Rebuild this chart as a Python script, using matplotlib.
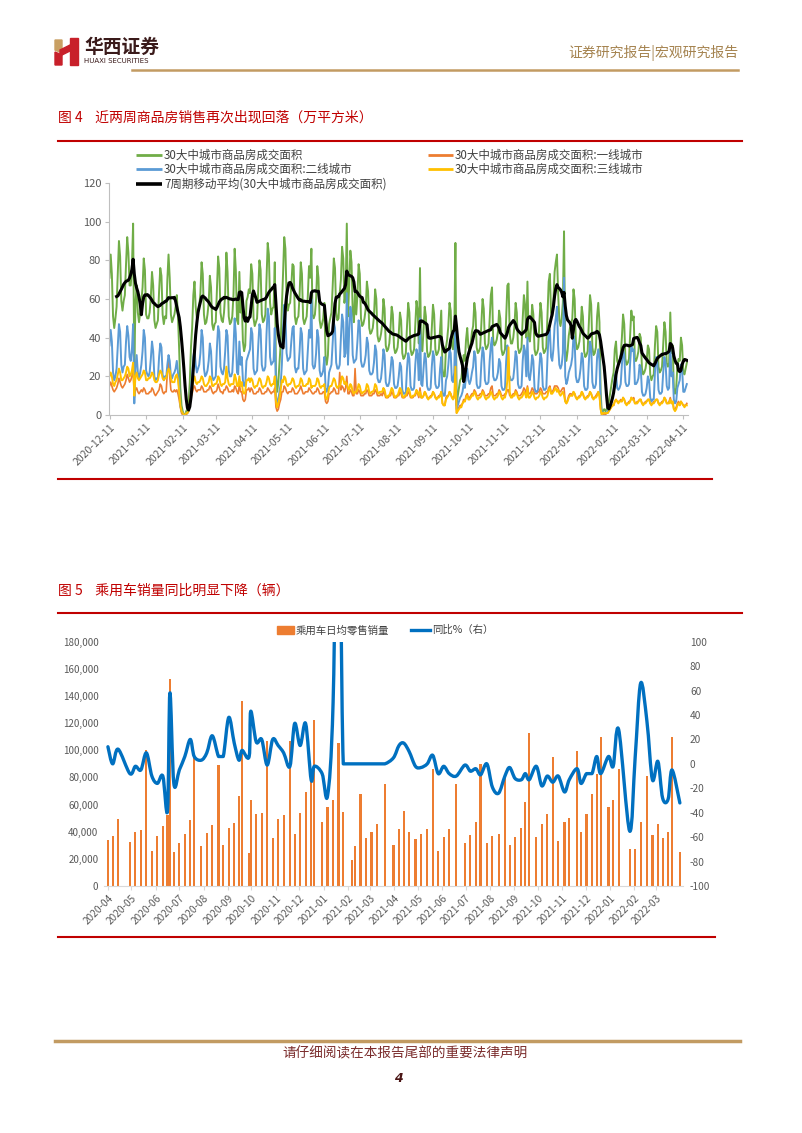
import matplotlib
matplotlib.use("Agg")
import matplotlib.pyplot as plt
import matplotlib.dates as mdates
import pandas as pd
from matplotlib.lines import Line2D
from matplotlib.patches import Rectangle, Polygon, PathPatch
from matplotlib.path import Path

plt.rcParams['font.family'] = ['Noto Sans CJK SC', 'DejaVu Sans']
plt.rcParams['axes.unicode_minus'] = False

# ---------------- chart 1 data: daily, from 2020-12-11 (one row = one week) ----------------
house_start = "2020-12-11"

tier1 = [
    15, 17, 15, 13, 12, 13, 14,
    16, 19, 17, 15, 14, 15, 16,
    18, 21, 19, 17, 18, 20, 25,
    9, 13, 14, 12, 11, 12, 13,
    12, 14, 13, 11, 11, 11, 12,
    12, 14, 13, 11, 10, 11, 12,
    13, 16, 15, 12, 11, 12, 12,
    22, 28, 20, 13, 12, 12, 13,
    12, 13, 11, 8, 4, 1, 0,
    0, 0, 0, 1, 2, 5, 9,
    11, 14, 15, 13, 12, 13, 13,
    13, 15, 14, 12, 12, 12, 13,
    13, 15, 14, 12, 11, 12, 12,
    13, 16, 14, 12, 12, 11, 13,
    13, 15, 14, 12, 12, 12, 13,
    12, 15, 14, 12, 11, 16, 12,
    12, 8, 7, 8, 13, 13, 14,
    12, 14, 13, 11, 11, 11, 12,
    12, 14, 13, 11, 11, 11, 12,
    12, 14, 13, 12, 11, 12, 12,
    14, 4, 2, 3, 6, 8, 12,
    12, 15, 14, 12, 11, 12, 12,
    12, 14, 13, 11, 11, 11, 12,
    13, 15, 13, 11, 11, 12, 12,
    12, 14, 13, 12, 11, 11, 12,
    12, 14, 13, 11, 11, 11, 12,
    12, 7, 6, 7, 11, 11, 12,
    12, 14, 13, 11, 11, 11, 22,
    13, 15, 14, 12, 14, 20, 11,
    11, 13, 12, 10, 10, 24, 11,
    11, 13, 12, 10, 10, 10, 11,
    11, 13, 12, 10, 10, 10, 11,
    11, 13, 12, 10, 10, 10, 11,
    10, 12, 11, 9, 9, 9, 10,
    10, 12, 11, 9, 9, 9, 10,
    10, 12, 11, 9, 9, 9, 10,
    10, 12, 11, 9, 9, 9, 10,
    10, 12, 11, 9, 14, 9, 9,
    10, 12, 11, 9, 9, 9, 10,
    10, 12, 11, 9, 9, 9, 10,
    10, 12, 6, 5, 5, 9, 10,
    10, 12, 11, 9, 9, 10, 14,
    1, 3, 4, 5, 5, 6, 8,
    7, 10, 11, 9, 9, 10, 11,
    11, 13, 12, 10, 10, 10, 11,
    11, 13, 12, 10, 10, 10, 11,
    11, 14, 15, 10, 10, 10, 11,
    11, 13, 12, 10, 10, 10, 11,
    11, 13, 13, 10, 10, 10, 11,
    11, 13, 12, 10, 10, 10, 11,
    12, 14, 13, 11, 15, 11, 11,
    12, 14, 13, 11, 11, 11, 12,
    12, 14, 13, 11, 11, 11, 12,
    12, 14, 15, 12, 12, 13, 15,
    15, 15, 14, 12, 12, 13, 14,
    14, 7, 6, 8, 10, 11, 11,
    10, 12, 11, 9, 9, 9, 10,
    10, 12, 11, 9, 9, 9, 10,
    10, 12, 11, 9, 9, 9, 10,
    11, 12, 10, 3, 0, 0, 1,
    0, 1, 1, 2, 3, 4, 5,
    5, 7, 8, 7, 7, 7, 8,
    7, 9, 8, 6, 6, 6, 7,
    7, 9, 8, 9, 6, 6, 7,
    7, 8, 8, 6, 6, 6, 7,
    7, 8, 8, 6, 6, 6, 7,
    7, 8, 8, 6, 6, 6, 7,
    7, 9, 8, 6, 6, 7, 9,
    6, 7, 3, 3, 4, 6, 7,
    5, 7, 6, 5, 5, 5, 6,
]

tier2 = [
    36, 44, 38, 22, 18, 20, 24,
    36, 47, 43, 26, 22, 25, 26,
    38, 46, 41, 30, 28, 34, 47,
    6, 25, 31, 22, 19, 22, 26,
    33, 44, 40, 23, 21, 20, 22,
    29, 38, 33, 20, 18, 19, 19,
    30, 37, 35, 21, 18, 20, 19,
    26, 31, 28, 20, 19, 21, 22,
    24, 28, 22, 14, 5, 2, 1,
    0, 0, 1, 1, 2, 6, 14,
    20, 30, 34, 26, 22, 24, 26,
    32, 44, 40, 24, 20, 21, 23,
    28, 37, 33, 20, 18, 19, 20,
    35, 46, 43, 25, 22, 21, 24,
    33, 44, 41, 23, 20, 20, 22,
    34, 50, 42, 22, 21, 38, 26,
    30, 18, 15, 16, 28, 30, 32,
    34, 45, 42, 24, 21, 22, 23,
    36, 47, 44, 26, 23, 23, 25,
    42, 55, 51, 30, 26, 27, 28,
    45, 10, 6, 8, 12, 16, 26,
    44, 57, 53, 32, 28, 29, 30,
    38, 45, 46, 25, 22, 24, 24,
    33, 45, 42, 24, 21, 22, 23,
    34, 44, 40, 60, 26, 24, 25,
    32, 44, 40, 23, 20, 21, 23,
    30, 14, 12, 14, 22, 24, 26,
    37, 48, 45, 27, 24, 24, 26,
    40, 52, 48, 30, 32, 63, 26,
    43, 56, 52, 31, 27, 28, 29,
    38, 49, 46, 28, 25, 25, 27,
    31, 40, 37, 23, 21, 21, 22,
    27, 36, 33, 19, 17, 17, 19,
    25, 34, 31, 17, 15, 15, 17,
    23, 30, 28, 16, 14, 14, 15,
    20, 27, 25, 13, 11, 11, 12,
    24, 32, 29, 15, 13, 13, 14,
    26, 34, 31, 18, 50, 16, 15,
    24, 32, 29, 15, 13, 13, 14,
    25, 33, 30, 16, 14, 14, 15,
    24, 30, 12, 10, 10, 18, 20,
    26, 34, 32, 18, 17, 22, 50,
    3, 5, 7, 9, 10, 12, 16,
    14, 20, 24, 18, 16, 18, 22,
    25, 33, 30, 16, 14, 14, 15,
    27, 35, 32, 18, 16, 16, 17,
    28, 36, 40, 20, 18, 18, 19,
    22, 29, 27, 15, 13, 13, 14,
    28, 36, 20, 20, 18, 18, 19,
    25, 33, 30, 16, 14, 14, 15,
    28, 36, 33, 20, 40, 20, 18,
    23, 31, 28, 14, 12, 12, 13,
    24, 32, 29, 15, 13, 13, 14,
    30, 42, 44, 30, 28, 34, 46,
    50, 56, 36, 26, 24, 26, 32,
    71, 20, 16, 18, 22, 24, 26,
    30, 41, 38, 20, 17, 17, 19,
    24, 32, 29, 15, 13, 13, 14,
    27, 38, 35, 17, 14, 14, 16,
    30, 34, 28, 6, 1, 1, 1,
    1, 1, 2, 3, 5, 7, 9,
    12, 20, 22, 14, 13, 14, 16,
    26, 34, 31, 17, 15, 15, 16,
    27, 36, 33, 34, 16, 16, 17,
    19, 26, 24, 12, 10, 10, 11,
    14, 20, 18, 9, 7, 8, 8,
    22, 30, 27, 13, 11, 11, 12,
    22, 30, 27, 15, 13, 14, 36,
    20, 22, 8, 6, 7, 14, 16,
    18, 26, 24, 12, 12, 14, 16,
]

tier3 = [
    20, 22, 20, 16, 15, 17, 18,
    21, 24, 22, 18, 18, 19, 20,
    22, 25, 24, 20, 21, 23, 27,
    10, 20, 22, 19, 18, 19, 20,
    21, 23, 22, 18, 18, 19, 19,
    20, 22, 21, 18, 17, 17, 18,
    21, 23, 22, 19, 18, 19, 19,
    22, 24, 23, 19, 17, 17, 17,
    20, 21, 18, 12, 5, 2, 1,
    0, 0, 1, 1, 2, 6, 12,
    14, 18, 20, 17, 16, 17, 17,
    18, 20, 19, 16, 15, 15, 16,
    17, 20, 19, 15, 15, 16, 16,
    17, 20, 19, 16, 15, 16, 16,
    17, 25, 19, 16, 15, 16, 16,
    16, 21, 19, 15, 15, 20, 15,
    17, 12, 11, 12, 18, 18, 19,
    17, 19, 18, 15, 14, 15, 15,
    17, 19, 18, 15, 14, 15, 15,
    17, 20, 19, 16, 15, 16, 16,
    20, 7, 4, 6, 9, 13, 18,
    17, 20, 19, 16, 15, 16, 16,
    17, 19, 18, 15, 14, 15, 15,
    16, 19, 18, 15, 15, 15, 16,
    16, 19, 18, 14, 15, 15, 15,
    16, 19, 18, 15, 14, 15, 15,
    16, 9, 8, 10, 14, 15, 15,
    17, 19, 18, 15, 14, 15, 15,
    17, 20, 19, 16, 17, 16, 14,
    13, 16, 15, 12, 11, 12, 12,
    13, 16, 15, 12, 11, 12, 12,
    13, 16, 15, 12, 11, 12, 12,
    13, 16, 15, 12, 11, 12, 12,
    12, 14, 13, 10, 9, 10, 10,
    12, 14, 13, 10, 9, 10, 10,
    12, 14, 13, 10, 9, 10, 10,
    12, 14, 13, 10, 9, 10, 10,
    11, 13, 12, 10, 12, 9, 9,
    10, 12, 11, 9, 8, 9, 9,
    10, 12, 11, 9, 8, 9, 9,
    10, 12, 6, 5, 5, 8, 9,
    10, 12, 11, 9, 8, 9, 25,
    1, 2, 3, 4, 4, 6, 7,
    7, 9, 10, 8, 8, 9, 10,
    10, 12, 11, 9, 8, 9, 9,
    10, 12, 11, 9, 8, 9, 9,
    10, 12, 11, 9, 8, 9, 9,
    10, 12, 11, 9, 8, 9, 9,
    12, 18, 35, 12, 9, 9, 10,
    10, 12, 11, 9, 8, 9, 9,
    10, 12, 11, 9, 14, 9, 9,
    10, 12, 11, 9, 8, 9, 9,
    10, 12, 11, 9, 8, 9, 9,
    10, 13, 14, 11, 11, 12, 13,
    14, 12, 13, 11, 10, 11, 12,
    10, 7, 6, 7, 9, 10, 10,
    10, 12, 11, 9, 8, 9, 9,
    10, 12, 11, 9, 8, 9, 9,
    10, 12, 11, 9, 8, 9, 9,
    10, 12, 10, 3, 0, 1, 1,
    1, 1, 1, 2, 3, 4, 5,
    5, 7, 8, 7, 6, 7, 7,
    7, 9, 8, 6, 5, 6, 6,
    7, 9, 8, 8, 6, 6, 6,
    7, 8, 8, 6, 5, 6, 6,
    7, 8, 8, 6, 5, 6, 6,
    7, 8, 8, 6, 5, 6, 6,
    7, 9, 8, 6, 6, 6, 8,
    6, 7, 3, 2, 3, 5, 6,
    5, 7, 6, 5, 4, 5, 5,
]

house_labels = ["30大中城市商品房成交面积", "30大中城市商品房成交面积:一线城市",
                "30大中城市商品房成交面积:二线城市", "30大中城市商品房成交面积:三线城市",
                "7周期移动平均(30大中城市商品房成交面积)"]

# ---------------- chart 2 data: weekly car retail ----------------
car_dates = [
    "2020-04-01", "2020-04-07", "2020-04-14", "2020-04-29", "2020-05-06", "2020-05-13", "2020-05-20",
    "2020-05-27", "2020-06-03", "2020-06-10", "2020-06-16", "2020-06-19", "2020-06-24", "2020-07-01",
    "2020-07-08", "2020-07-15", "2020-07-20", "2020-07-29", "2020-08-05", "2020-08-12", "2020-08-20",
    "2020-08-26", "2020-09-02", "2020-09-09", "2020-09-15", "2020-09-19", "2020-09-28", "2020-09-30",
    "2020-10-07", "2020-10-14", "2020-10-21", "2020-10-28", "2020-11-04", "2020-11-11", "2020-11-19",
    "2020-11-25", "2020-12-02", "2020-12-09", "2020-12-16", "2020-12-20", "2020-12-30", "2021-01-06",
    "2021-01-13", "2021-01-20", "2021-01-26", "2021-02-06", "2021-02-10", "2021-02-17", "2021-02-24",
    "2021-03-03", "2021-03-10", "2021-03-20", "2021-03-31", "2021-04-07", "2021-04-13", "2021-04-20",
    "2021-04-28", "2021-05-05", "2021-05-13", "2021-05-20", "2021-05-27", "2021-06-03", "2021-06-10",
    "2021-06-19", "2021-06-30", "2021-07-07", "2021-07-14", "2021-07-20", "2021-07-28", "2021-08-04",
    "2021-08-12", "2021-08-20", "2021-08-26", "2021-09-02", "2021-09-10", "2021-09-15", "2021-09-20",
    "2021-09-29", "2021-10-06", "2021-10-13", "2021-10-20", "2021-10-27", "2021-11-04", "2021-11-10",
    "2021-11-20", "2021-11-25", "2021-12-02", "2021-12-09", "2021-12-15", "2021-12-20", "2021-12-30",
    "2022-01-05", "2022-01-12", "2022-01-26", "2022-02-02", "2022-02-09", "2022-02-17", "2022-02-24",
    "2022-03-03", "2022-03-09", "2022-03-16", "2022-03-21", "2022-03-31",
]

car_sales = [
    34000, 37000, 49000, 32500, 39500, 41500, 100500,
    26000, 37000, 44000, 52000, 152500, 25000, 31500,
    38500, 48500, 95000, 29500, 39000, 45000, 89000,
    30000, 42500, 46500, 66500, 136500, 24000, 63500,
    53000, 53500, 107000, 35000, 49500, 52000, 107000,
    38000, 54000, 69000, 78000, 122000, 47000, 58000,
    63000, 105500, 54500, 19500, 29500, 67500, 35000,
    39500, 45500, 75500, 30500, 42000, 55500, 40000,
    34600, 38500, 42000, 86000, 26000, 36000, 42000,
    75000, 31400, 37800, 47000, 90000, 31400, 37000,
    38300, 80500, 30000, 36300, 43000, 61600, 113000,
    35800, 45700, 53000, 94800, 33000, 47000, 50000,
    99500, 40000, 52800, 67800, 82500, 109500, 58500,
    63000, 86000, 27000, 27000, 47400, 81300, 37800,
    46000, 35600, 40000, 109500, 25300,
]

car_yoy = [
    14, 0, 12, -8, -2, -5, 9,
    -10, -16, -10, -38, 58, -16, -5,
    6, 20, 6, 3, 9, 23, 6,
    6, 38, 17, 3, 11, 6, 43,
    18, 20, -1, 20, 15, 9, -2,
    33, 15, 33, -13, -2, -8, -26,
    50, 280, 0, 0, 0, 0, 0,
    0, 0, 0, 5, 15, 17, 10,
    -2, -3, 0, 7, -8, -2, -8,
    -10, -1, -6, -4, -9, 0, -19,
    -24, -10, -3, -12, -13, -8, -13,
    -2, -18, -10, -15, -10, -23, -13,
    -4, -16, -8, -8, 6, -8, 6,
    -2, 28, -55, 5, 66, 35, -13,
    2, -28, -29, -5, -32,
]

car_labels = ["乘用车日均零售销量", "同比%（右）"]

# ---------------- page layout helpers (pixel coordinates, origin top-left) ----------------
W, H = 802, 1133
fig = plt.figure(figsize=(W / 100, H / 100), dpi=100)


def fx(px):
    return px / W


def fy(py):
    return 1 - py / H


def rect(l, t, r, b):
    return [fx(l), fy(b), (r - l) / W, (b - t) / H]


def hline(x0, x1, y, color, lw):
    fig.add_artist(Line2D([fx(x0), fx(x1)], [fy(y), fy(y)], color=color, lw=lw,
                          transform=fig.transFigure))


def legend_line(x0, x1, y, color, lw, label):
    fig.add_artist(Line2D([fx(x0), fx(x1)], [fy(y), fy(y)], color=color, lw=lw,
                          solid_capstyle="butt", transform=fig.transFigure))
    fig.text(fx(x1 + 2), fy(y), label, fontsize=8.3, color="#404040", va="center", ha="left")


GOLD = "#C29B62"
RED = "#C00000"
GREY_TXT = "#595959"

# header: logo, name, report type
fig.add_artist(Polygon([(fx(55), fy(40)), (fx(62), fy(40)), (fx(62), fy(53)), (fx(55), fy(50))],
                       closed=True, color="#C9A063", transform=fig.transFigure))
fig.add_artist(Polygon([(fx(55), fy(52)), (fx(62), fy(55)), (fx(62), fy(65)), (fx(55), fy(65))],
                       closed=True, color="#C8202A", transform=fig.transFigure))
fig.add_artist(Polygon([(fx(60), fy(50)), (fx(72), fy(44)), (fx(72), fy(50)), (fx(60), fy(56))],
                       closed=True, color="#C8202A", transform=fig.transFigure))
fig.add_artist(Polygon([(fx(70), fy(38)), (fx(78), fy(38)), (fx(78), fy(65)), (fx(70), fy(65))],
                       closed=True, color="#C8202A", transform=fig.transFigure))
fig.text(fx(84), fy(47), "华西证券", fontsize=13.5, fontweight="bold", color="#3A1A1A", va="center")
fig.text(fx(84), fy(61), "HUAXI SECURITIES", fontsize=5, color="#3A1A1A", va="center",
         family=["DejaVu Sans"])
fig.text(fx(738), fy(53), "证券研究报告|宏观研究报告", fontsize=10, color="#A5834F",
         va="center", ha="right")
hline(132, 738, 70, GOLD, 1.8)

# figure titles and red rules
fig.text(fx(58), fy(118), "图 4    近两周商品房销售再次出现回落（万平方米）", fontsize=10,
         color=RED, va="center")
hline(58, 742, 141, RED, 1.5)
hline(58, 712, 479, RED, 1.5)
fig.text(fx(58), fy(591), "图 5    乘用车销量同比明显下降（辆）", fontsize=10, color=RED, va="center")
hline(58, 742, 613, RED, 1.5)
hline(58, 715, 937, RED, 1.5)

# footer
hline(55, 740, 1041, GOLD, 2.5)
fig.text(fx(405), fy(1053), "请仔细阅读在本报告尾部的重要法律声明", fontsize=9.8, color="#7B2C2C",
         ha="center", va="center")
fig.text(fx(398), fy(1079), "4", fontsize=9, fontweight="bold", style="italic", color="#4A1515",
         ha="center", va="center", family=["DejaVu Sans"])

# ---------------- chart 1 ----------------
days = pd.date_range(house_start, periods=len(tier2), freq="D")
total = pd.Series(tier1, index=days) + pd.Series(tier2, index=days) + pd.Series(tier3, index=days)
ma7 = total.rolling(7).mean()

ax1 = fig.add_axes(rect(109.5, 183, 688, 415))
ax1.plot(days, total, color="#70AD47", lw=1.4)
ax1.plot(days, tier1, color="#ED7D31", lw=1.2)
ax1.plot(days, tier2, color="#5B9BD5", lw=1.4)
ax1.plot(days, tier3, color="#FFC000", lw=1.4)
ax1.plot(days, ma7, color="black", lw=2.2)
ax1.set_xlim(pd.Timestamp("2020-12-11"), pd.Timestamp("2022-04-15"))
ax1.set_ylim(0, 120)
ax1.set_yticks(range(0, 121, 20))
ax1.set_xticks(pd.date_range("2020-12-11", "2022-04-11", freq=pd.DateOffset(months=1)))
ax1.xaxis.set_major_formatter(mdates.DateFormatter("%Y-%m-%d"))
for s in ("top", "right"):
    ax1.spines[s].set_visible(False)
for s in ("left", "bottom"):
    ax1.spines[s].set_color("#BFBFBF")
ax1.tick_params(axis="both", colors="#BFBFBF", labelcolor=GREY_TXT, length=3, width=0.8)
ax1.tick_params(axis="y", labelsize=8, pad=3)
ax1.tick_params(axis="x", labelsize=7.5, pad=2)
for lab in ax1.get_xticklabels():
    lab.set_rotation(45)
    lab.set_ha("right")
    lab.set_rotation_mode("anchor")

legend_line(136, 162, 155, "#70AD47", 2, house_labels[0])
legend_line(428, 453, 155, "#ED7D31", 2, house_labels[1])
legend_line(136, 162, 169, "#5B9BD5", 2, house_labels[2])
legend_line(428, 453, 169, "#FFC000", 2, house_labels[3])
legend_line(136, 162, 184, "black", 2.6, house_labels[4])

# ---------------- chart 2 ----------------
cd = pd.to_datetime(car_dates)
ax2 = fig.add_axes(rect(104, 641.7, 683, 886))
ax2.bar(cd, car_sales, width=2.8, color="#ED7D31", zorder=2)
ax2.set_xlim(pd.Timestamp("2020-03-27"), pd.Timestamp("2022-04-04"))
ax2.set_ylim(0, 180000)
ax2.set_yticks(range(0, 180001, 20000))
ax2.yaxis.set_major_formatter(matplotlib.ticker.FuncFormatter(lambda v, p: f"{int(v):,}"))
ax2.set_xticks(pd.date_range("2020-04-01", "2022-03-01", freq="MS"))
ax2.xaxis.set_major_formatter(mdates.DateFormatter("%Y-%m"))
for s in ("top", "right", "left"):
    ax2.spines[s].set_visible(False)
ax2.spines["bottom"].set_color("#D9D9D9")
ax2.tick_params(axis="y", length=0, labelsize=7, labelcolor=GREY_TXT, pad=4)
ax2.tick_params(axis="x", length=3, color="#D9D9D9", labelsize=7.3, labelcolor=GREY_TXT, pad=2)
for lab in ax2.get_xticklabels():
    lab.set_rotation(45)
    lab.set_ha("right")
    lab.set_rotation_mode("anchor")

ax2r = ax2.twinx()
ax2r.set_ylim(-100, 100)
ax2r.set_yticks(range(-100, 101, 20))
for s in ax2r.spines.values():
    s.set_visible(False)
ax2r.tick_params(axis="y", length=0, labelsize=7.3, labelcolor=GREY_TXT, pad=5)

# smoothed line (Excel style Bezier through the weekly points)
xs = mdates.date2num(cd)
ys = car_yoy
verts = [(xs[0], ys[0])]
codes = [Path.MOVETO]
n = len(xs)
for i in range(n - 1):
    x0, y0 = (xs[i - 1], ys[i - 1]) if i > 0 else (xs[i], ys[i])
    x1, y1 = xs[i], ys[i]
    x2, y2 = xs[i + 1], ys[i + 1]
    x3, y3 = (xs[i + 2], ys[i + 2]) if i + 2 < n else (x2, y2)
    c1x = min(max(x1 + (x2 - x0) / 6, x1), x2)
    c2x = min(max(x2 - (x3 - x1) / 6, x1), x2)
    c1y = y1 + (y2 - y0) / 6
    c2y = y2 - (y3 - y1) / 6
    if y1 == y2:  # keep flat runs flat
        c1y = c2y = y1
    verts += [(c1x, c1y), (c2x, c2y), (x2, y2)]
    codes += [Path.CURVE4] * 3
ax2r.add_patch(PathPatch(Path(verts, codes), fill=False, edgecolor="#0070C0", lw=2.4,
                         capstyle="round", joinstyle="round"))

# chart 2 legend
fig.add_artist(Rectangle((fx(277), fy(634)), 17 / W, 8 / H, color="#ED7D31",
                         transform=fig.transFigure))
fig.text(fx(296), fy(630), car_labels[0], fontsize=7.5, color="#404040", va="center")
fig.add_artist(Line2D([fx(411), fx(430)], [fy(630), fy(630)], color="#0070C0", lw=2.4,
                      transform=fig.transFigure))
fig.text(fx(432), fy(630), car_labels[1], fontsize=7.5, color="#404040", va="center")

fig.savefig("out.png", dpi=100)
